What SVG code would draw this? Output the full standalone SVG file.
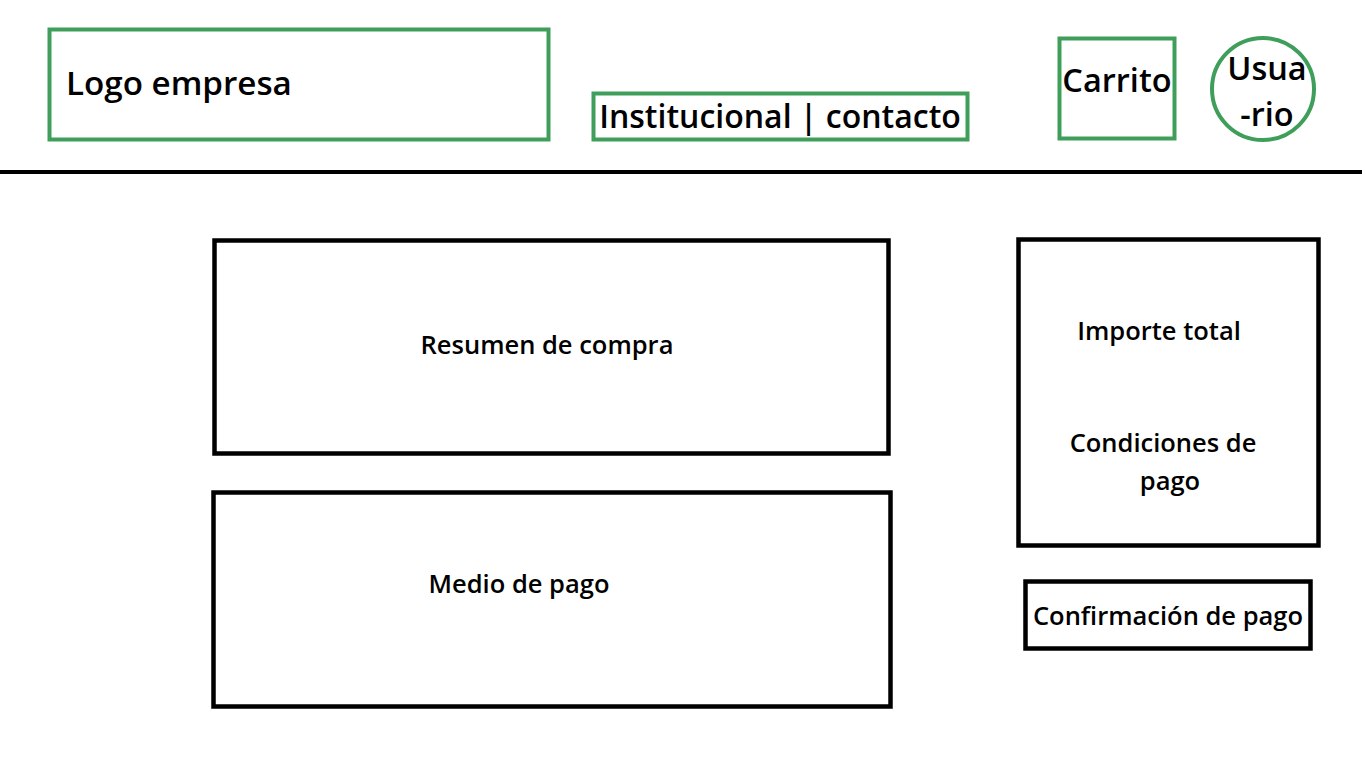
<svg xmlns="http://www.w3.org/2000/svg" width="1366" height="768" viewBox="0 0 1366 768">
  <style>
    .green { fill: #ffffff; stroke: #3f9e5a; stroke-width: 4; }
    .black { fill: #ffffff; stroke: #000000; stroke-width: 4.5; }
    .hdr { font-family: "Open Sans", "Noto Sans", sans-serif; font-size: 32.5px; font-weight: 600; fill: #000000; }
    .lbl { font-family: "Open Sans", "Noto Sans", sans-serif; font-size: 25.5px; font-weight: 600; fill: #000000; }
  </style>
  <rect width="1366" height="768" fill="#ffffff"/>

  <!-- header -->
  <g id="logo">
    <rect class="green" x="49.5" y="29.5" width="499" height="110"/>
    <text class="hdr" x="66" y="95" style="font-size:33.2px">Logo empresa</text>
  </g>
  <g id="institucional">
    <rect class="green" x="593.5" y="93.5" width="374" height="46"/>
    <text class="hdr" x="780" y="128" text-anchor="middle" style="font-size:32px">Institucional | contacto</text>
  </g>
  <g id="carrito">
    <rect class="green" x="1059.5" y="38.5" width="115" height="100"/>
    <text class="hdr" x="1117" y="92" text-anchor="middle">Carrito</text>
  </g>
  <g id="usuario">
    <ellipse class="green" cx="1263" cy="89" rx="51" ry="51"/>
    <text class="hdr" x="1267" y="80" text-anchor="middle">Usua</text>
    <text class="hdr" x="1267" y="126" text-anchor="middle">-rio</text>
  </g>

  <!-- divider under the header -->
  <g id="connectors">
    <line x1="0" y1="172" x2="1362" y2="172" stroke="#000000" stroke-width="4"/>
  </g>

  <!-- body -->
  <g id="resumen">
    <rect class="black" x="214.5" y="240.5" width="674" height="213"/>
    <text class="lbl" x="547" y="354" text-anchor="middle">Resumen de compra</text>
  </g>
  <g id="medio">
    <rect class="black" x="213.5" y="492.5" width="677" height="214"/>
    <text class="lbl" x="519" y="593" text-anchor="middle">Medio de pago</text>
  </g>
  <g id="importe">
    <rect class="black" x="1018.5" y="239.5" width="300" height="306"/>
    <text class="lbl" x="1159" y="340" text-anchor="middle">Importe total</text>
    <text class="lbl" x="1163" y="452" text-anchor="middle">Condiciones de</text>
    <text class="lbl" x="1170" y="490" text-anchor="middle">pago</text>
  </g>
  <g id="confirmacion">
    <rect class="black" x="1025.5" y="581.5" width="285" height="67"/>
    <text class="lbl" x="1168" y="625" text-anchor="middle">Confirmación de pago</text>
  </g>
</svg>
